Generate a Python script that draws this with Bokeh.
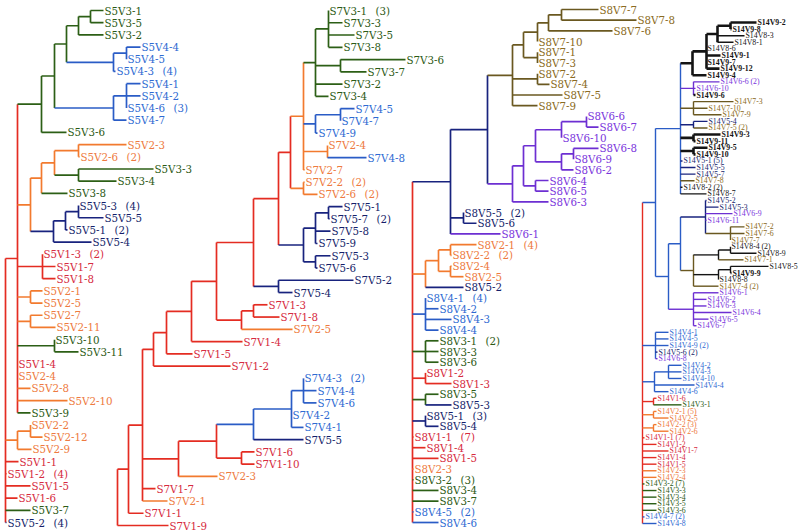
import re
from bokeh.plotting import figure
from bokeh.models import ColumnDataSource, Range1d
from bokeh.core.properties import value
from bokeh.embed import file_html
from bokeh.resources import INLINE


def N(d, g, kids):
    return {"d": d, "g": g, "kids": kids}


def L(label, d, n=None):
    return {"d": d, "label": label, "n": n}


# ---------------- data: four dendrograms (depth = branch distance from root) ----------------
TREE_S5 = N(0, "V1", [
    N(12, "V1", [
        N(36, "V3", [
            N(49, "V3", [
                N(61, "V3", [
                    N(73, "V3", [
                        N(85, "V3", [L("S5V3-1", 98), L("S5V3-5", 98)]),
                        L("S5V3-2", 98)]),
                    N(108, "V4", [
                        N(121, "V4", [L("S5V4-4", 135), L("S5V4-5", 121)]),
                        L("S5V4-3", 110, 4)]),
                ]),
                N(108, "V4", [
                    N(121, "V4", [L("S5V4-1", 135), L("S5V4-2", 135), L("S5V4-6", 121, 3)]),
                    L("S5V4-7", 121)]),
            ]),
            L("S5V3-6", 61),
        ]),
        N(25, "V2", [
            N(36, "V2", [
                N(49, "V2", [
                    N(73, "V2", [L("S5V2-3", 121), L("S5V2-6", 74, 2)]),
                    N(73, "V3", [L("S5V3-3", 148), L("S5V3-4", 111)]),
                ]),
                L("S5V3-8", 62),
            ]),
            N(48, "V5", [
                N(60, "V5", [
                    N(73, "V5", [L("S5V5-3", 73, 4), L("S5V5-5", 98)]),
                    L("S5V5-1", 62, 2)]),
                L("S5V5-4", 86)]),
        ]),
        N(37, "V1", [L("S5V1-3", 37, 2), L("S5V1-7", 50), L("S5V1-8", 50)]),
        N(25, "V2", [L("S5V2-1", 37), L("S5V2-5", 37)]),
        N(25, "V2", [L("S5V2-7", 37), L("S5V2-11", 50)]),
        N(49, "V3", [L("S5V3-10", 49), L("S5V3-11", 73)]),
        L("S5V1-4", 12), L("S5V2-4", 12), L("S5V2-8", 25), L("S5V2-10", 62), L("S5V3-9", 25),
    ]),
    N(12, "V2", [
        N(25, "V2", [L("S5V2-2", 25), L("S5V2-12", 37)]),
        L("S5V2-9", 26)]),
    L("S5V1-1", 13), L("S5V1-2", 1, 4), L("S5V1-5", 25), L("S5V1-6", 12), L("S5V3-7", 25),
    L("S5V5-2", 1, 4),
])

TREE_S7 = N(0, "V1", [
    N(11, "V1", [
        N(25, "V1", [
            N(36, "V1", [
                N(49, "V1", [
                    N(74, "V1", [
                        N(99, "V1", [
                            N(136, "V1", [
                                N(161, "V1", [
                                    N(173, "V1", [
                                        N(186, "V2", [
                                            N(198, "V3", [
                                                N(211, "V3", [L("S7V3-1", 211, 3), L("S7V3-3", 225),
                                                              L("S7V3-5", 237), L("S7V3-8", 225)]),
                                                N(223, "V3", [L("S7V3-6", 288), L("S7V3-7", 249)]),
                                                L("S7V3-2", 225), L("S7V3-4", 211)]),
                                            N(198, "V4", [
                                                N(223, "V4", [L("S7V4-5", 237), L("S7V4-7", 223)]),
                                                L("S7V4-9", 200)]),
                                            N(210, "V2", [L("S7V2-4", 210), L("S7V4-8", 249)]),
                                            L("S7V2-7", 187)]),
                                        N(186, "V2", [L("S7V2-2", 187, 2), L("S7V2-6", 200, 2)]),
                                    ]),
                                    N(186, "V5", [
                                        N(198, "V5", [
                                            N(211, "V5", [L("S7V5-1", 225), L("S7V5-7", 212, 2)]),
                                            L("S7V5-8", 213), L("S7V5-9", 200)]),
                                        N(198, "V5", [L("S7V5-3", 213), L("S7V5-6", 200)]),
                                    ]),
                                ]),
                                N(161, "V5", [L("S7V5-2", 236), L("S7V5-4", 175)]),
                            ]),
                            N(124, "V1", [
                                N(136, "V1", [L("S7V1-3", 150), L("S7V1-8", 162)]),
                                L("S7V2-5", 175)]),
                        ]),
                        L("S7V1-4", 125)]),
                    L("S7V1-5", 75)]),
                L("S7V1-2", 113)]),
            N(61, "V1", [
                N(99, "V1", [
                    N(136, "V4", [
                        N(174, "V4", [
                            N(186, "V4", [L("S7V4-3", 186, 2), L("S7V4-4", 199), L("S7V4-6", 199)]),
                            L("S7V4-2", 174), L("S7V4-1", 186)]),
                        L("S7V5-5", 186)]),
                    N(124, "V1", [L("S7V1-6", 137), L("S7V1-10", 137)]),
                ]),
                L("S7V2-3", 100)]),
            L("S7V1-7", 38), L("S7V2-1", 50)]),
        L("S7V1-1", 26)]),
    L("S7V1-9", 51),
])

TREE_S8 = N(0, "V1", [
    N(38, "V5", [
        N(75, "V5", [
            N(100, "V7", [
                N(111, "V7", [
                    N(125, "V7", [
                        N(136, "V7", [
                            N(149, "V7", [L("S8V7-7", 186), L("S8V7-8", 224)]),
                            L("S8V7-6", 200)]),
                        L("S8V7-10", 125)]),
                    N(125, "V7", [L("S8V7-1", 125), L("S8V7-3", 125)]),
                ]),
                N(125, "V7", [L("S8V7-2", 125), L("S8V7-4", 137)]),
                L("S8V7-5", 150), L("S8V7-9", 125)]),
            N(100, "V6", [
                N(111, "V6", [
                    N(123, "V6", [
                        N(149, "V6", [
                            N(174, "V6", [L("S8V6-6", 174), L("S8V6-7", 186)]),
                            L("S8V6-10", 149)]),
                        N(149, "V6", [
                            N(161, "V6", [L("S8V6-8", 186), L("S8V6-9", 161)]),
                            L("S8V6-2", 161)]),
                    ]),
                    N(123, "V6", [L("S8V6-4", 136), L("S8V6-5", 136)]),
                ]),
                L("S8V6-3", 136)]),
        ]),
        N(51, "V5", [L("S8V5-5", 51, 2), L("S8V5-6", 64)]),
        L("S8V6-1", 88)]),
    N(13, "V2", [
        N(26, "V2", [
            N(38, "V2", [L("S8V2-1", 64, 4), L("S8V2-2", 39, 2)]),
            N(38, "V2", [L("S8V2-4", 39), L("S8V2-5", 51)])]),
        L("S8V5-2", 51)]),
    N(13, "V4", [L("S8V4-1", 13, 4), L("S8V4-2", 26), L("S8V4-3", 39), L("S8V4-4", 26)]),
    N(13, "V3", [L("S8V3-1", 26, 2), L("S8V3-3", 26), L("S8V3-6", 26)]),
    N(13, "V1", [L("S8V1-2", 13), L("S8V1-3", 39)]),
    N(13, "V3", [L("S8V3-5", 26), L("S8V5-3", 39)]),
    N(13, "V5", [L("S8V5-1", 13, 3), L("S8V5-4", 26)]),
    L("S8V1-1", 1, 7), L("S8V1-4", 13), L("S8V1-5", 26), L("S8V2-3", 1), L("S8V3-2", 1, 3),
    L("S8V3-4", 26), L("S8V3-7", 26), L("S8V4-5", 1, 2), L("S8V4-6", 26),
])

TREE_S14 = N(0, "V1", [
    N(13, "V4", [
        N(38, "V4", [
            N(50, "V9", [
                N(64, "V9", [
                    N(75, "V9", [
                        N(88, "V9", [L("S14V9-2", 114), L("S14V9-8", 89)]),
                        L("S14V8-3", 102), L("S14V8-1", 91)]),
                    L("S14V8-6", 64), L("S14V9-1", 78), L("S14V9-7", 64), L("S14V9-12", 77)]),
                L("S14V9-4", 64)]),
            N(51, "V6", [L("S14V6-6", 77, 2), L("S14V6-10", 53), L("S14V9-6", 53)]),
            N(51, "V7", [L("S14V7-3", 91), L("S14V7-10", 65), L("S14V7-9", 79)]),
            N(51, "V5", [L("S14V5-4", 65), L("S14V7-5", 65, 2)]),
            N(51, "V9", [L("S14V9-3", 78), L("S14V9-11", 53)]),
            N(51, "V9", [L("S14V9-5", 65), L("S14V9-10", 53)]),
            L("S14V5-1", 40, 5), L("S14V5-5", 53), L("S14V5-7", 53), L("S14V7-8", 52),
            L("S14V8-2", 40, 2), L("S14V8-7", 64),
        ]),
        N(26, "V4", [
            N(38, "V4", [
                N(63, "V5", [
                    L("S14V5-2", 64), L("S14V5-3", 76), L("S14V6-9", 90), L("S14V6-11", 64),
                    N(88, "V7", [L("S14V7-2", 102), L("S14V7-6", 102), L("S14V7-7", 88)])]),
                N(51, "V7", [
                    N(76, "V8", [
                        N(88, "V8", [L("S14V8-4", 88, 2), L("S14V8-9", 114)]),
                        L("S14V7-1", 101)]),
                    N(76, "V8", [
                        N(88, "V8", [L("S14V8-5", 126), L("S14V9-9", 89)]),
                        L("S14V8-8", 76)]),
                    L("S14V7-4", 76, 2)]),
            ]),
            N(51, "V6", [L("S14V6-1", 76), L("S14V6-2", 64), L("S14V6-3", 64), L("S14V6-4", 89),
                         L("S14V6-5", 66), L("S14V6-7", 54)]),
        ]),
    ]),
    N(13, "V4", [L("S14V4-1", 26), L("S14V4-5", 26), L("S14V4-9", 26, 2), L("S14V5-6", 15, 2),
                 L("S14V6-8", 15)]),
    N(12, "V4", [
        N(26, "V4", [L("S14V4-2", 39), L("S14V4-3", 39), L("S14V4-10", 39)]),
        L("S14V4-4", 52), L("S14V4-6", 26)]),
    N(11, "V1", [L("S14V1-6", 14), L("S14V3-1", 39)]),
    N(11, "V2", [L("S14V2-1", 14, 5), L("S14V2-5", 26)]),
    N(11, "V2", [L("S14V2-2", 14, 3), L("S14V2-6", 26)]),
    L("S14V1-1", 2, 7), L("S14V1-2", 14), L("S14V1-7", 26), L("S14V1-4", 14), L("S14V1-5", 14),
    L("S14V2-3", 14), L("S14V2-4", 14), L("S14V3-2", 2, 7), L("S14V3-3", 14), L("S14V3-4", 14),
    L("S14V3-5", 14), L("S14V3-6", 14), L("S14V4-7", 2, 2), L("S14V4-8", 14),
])

# ---------------- styles ----------------
LINE_COLORS = {"V1": "#e42c22", "V2": "#f27a2e", "V3": "#2c5f16", "V4": "#2a5cc6",
               "V5": "#18237e", "V6": "#6d2fd2", "V7": "#6a5820", "V8": "#141414", "V9": "#141414"}
TEXT_COLORS = {"V1": "#d62a40", "V2": "#ee7a40", "V3": "#2c5a14", "V4": "#2e6ad2",
               "V5": "#151e6a", "V6": "#7a35dc", "V7": "#8a6a22", "V8": "#151515", "V9": "#151515"}

# layout: tree, root x, first-leaf y, last-leaf y, font, font size, count offset, line width
TREES = [
    (TREE_S5, 5, 10, 522, "DejaVu Serif", 10.3, 47, 1.7),
    (TREE_S7, 117, 10, 525, "DejaVu Serif", 10.3, 47, 1.7),
    (TREE_S8, 412, 9, 522, "DejaVu Serif", 10.3, 47, 1.7),
    (TREE_S14, 642, 22, 523, "Liberation Serif", 7.8, 31, 1.4),
]


def count_leaves(node):
    if "label" in node:
        return 1
    return sum(count_leaves(k) for k in node["kids"])


def group_of(label):
    return "V" + re.search(r"V(\d+)", label).group(1)


def build(node, x0, ys, segs, leaves):
    x = x0 + node["d"]
    if "label" in node:
        y = next(ys)
        g = group_of(node["label"])
        leaves.append((x, y, node["label"], node["n"], g))
        return x, y, g
    info = [build(k, x0, ys, segs, leaves) for k in node["kids"]]
    y1, y2 = info[0][1], info[-1][1]
    segs.append((x, y1, x, y2, node["g"]))
    for cx, cy, cg in info:
        if cx > x + 0.1:
            segs.append((x, cy, cx, cy, cg))
    return x, (y1 + y2) / 2.0, node["g"]


p = figure(width=800, height=532, x_range=Range1d(0, 800), y_range=Range1d(532, 0),
           output_backend="svg", toolbar_location=None, min_border=0,
           x_axis_location=None, y_axis_location=None)
p.grid.visible = False
p.outline_line_color = None
p.background_fill_color = "white"

for ti, (tree, rx, ytop, ybot, font, fsize, cdx, lw) in enumerate(TREES):
    n = count_leaves(tree)
    step = (ybot - ytop) / (n - 1)
    ys = iter([ytop + i * step for i in range(n)])
    segs, leaves = [], []
    build(tree, rx, ys, segs, leaves)

    for thick in (False, True):
        sel = [s for s in segs if ((ti == 3 and s[4] == "V9") == thick)]
        if not sel:
            continue
        src = ColumnDataSource(dict(
            x0=[s[0] for s in sel], y0=[s[1] for s in sel],
            x1=[s[2] for s in sel], y1=[s[3] for s in sel],
            c=[LINE_COLORS[s[4]] for s in sel]))
        p.segment("x0", "y0", "x1", "y1", source=src, line_color="c",
                  line_width=(2.6 if thick else lw), line_cap="butt")

    for bold in (False, True):
        sel = [l for l in leaves if ((ti == 3 and l[4] == "V9") == bold)]
        if not sel:
            continue
        tsrc = ColumnDataSource(dict(
            x=[l[0] + 1 for l in sel], y=[l[1] for l in sel],
            t=[l[2] for l in sel], c=[TEXT_COLORS[l[4]] for l in sel]))
        p.text("x", "y", text="t", source=tsrc, text_color="c",
               text_font=value(font), text_font_size=value(f"{fsize}px"),
               text_baseline="middle", text_align="left",
               text_font_style=("bold" if bold else "normal"))
        csel = [l for l in sel if l[3]]
        if csel:
            csrc = ColumnDataSource(dict(
                x=[l[0] + cdx for l in csel], y=[l[1] for l in csel],
                t=[f"({l[3]})" for l in csel], c=[TEXT_COLORS[l[4]] for l in csel]))
            p.text("x", "y", text="t", source=csrc, text_color="c",
                   text_font=value(font), text_font_size=value(f"{fsize}px"),
                   text_baseline="middle", text_align="left",
                   text_font_style=("bold" if bold else "normal"))

open("out.html", "w").write(file_html(p, INLINE))
